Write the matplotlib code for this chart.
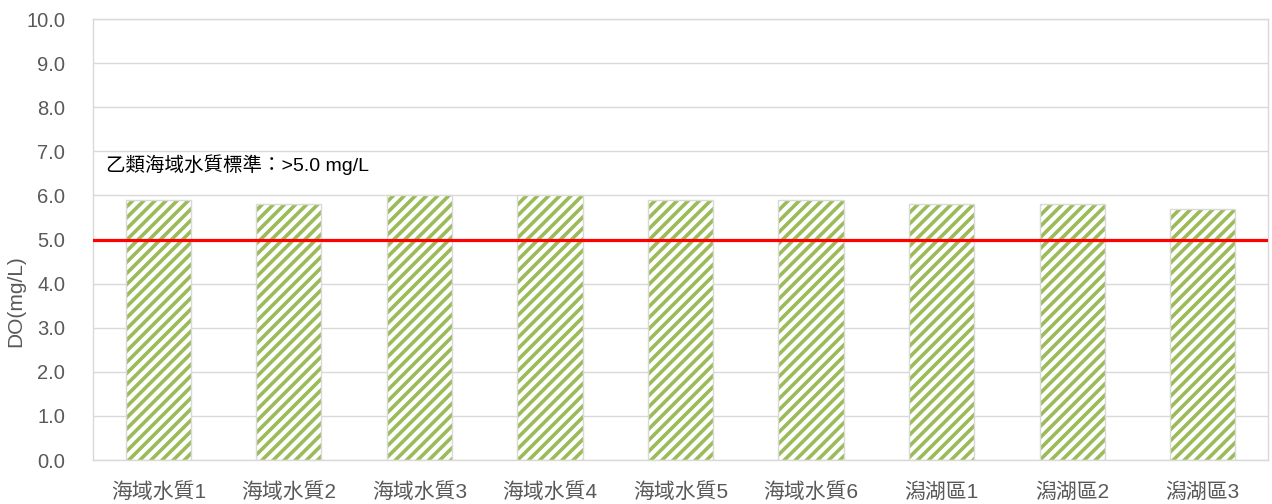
import numpy as np
import matplotlib
matplotlib.use('Agg')
import matplotlib.pyplot as plt

plt.rcParams['font.family'] = ['Liberation Sans', 'Noto Sans CJK TC', 'DejaVu Sans']
plt.rcParams['hatch.linewidth'] = 2.6

# data
sites = ['海域水質1', '海域水質2', '海域水質3', '海域水質4', '海域水質5',
         '海域水質6', '潟湖區1', '潟湖區2', '潟湖區3']
do_vals = [5.9, 5.8, 6.0, 6.0, 5.9, 5.9, 5.8, 5.8, 5.7]
standard = 5.0
std_text = '乙類海域水質標準：>5.0 mg/L'

green = '#9BBB59'
grid_c = '#D9D9D9'
txt_c = '#595959'

fig = plt.figure(figsize=(12.72, 5.04), dpi=100)
ax = fig.add_axes([0.0731, 0.0873, 0.9238, 0.875])

x = np.arange(len(sites))
# hatch layer
ax.bar(x, do_vals, width=0.5, color='white', edgecolor=green, linewidth=0, hatch='///', zorder=2)
# outline layer
ax.bar(x, do_vals, width=0.5, color='none', edgecolor=grid_c, linewidth=1.0, zorder=3)

ax.axhline(standard, color='#FF0000', linewidth=2.3, zorder=4)
ax.text(-0.4, 6.7, std_text, fontsize=14, color='black', va='center', ha='left', zorder=5)

ax.set_xlim(-0.5, len(sites) - 0.5)
ax.set_ylim(0, 10)
ax.set_yticks(np.arange(0, 10.1, 1.0))
ax.set_yticklabels(['%.1f' % v for v in np.arange(0, 10.1, 1.0)])
ax.set_xticks(x)
ax.set_xticklabels(sites, fontsize=15)
ax.tick_params(axis='both', length=0, colors=txt_c)
ax.tick_params(axis='y', pad=20, labelsize=14.5)
ax.tick_params(axis='x', pad=16)
ax.grid(axis='y', color=grid_c, linewidth=1.0, zorder=0)
ax.set_axisbelow(True)
for s in ax.spines.values():
    s.set_color(grid_c)
    s.set_linewidth(1.0)

ax.set_ylabel('DO(mg/L)', fontsize=15, color=txt_c)
ax.yaxis.set_label_coords(-0.058, 0.36)

fig.savefig('out.png', dpi=100)
